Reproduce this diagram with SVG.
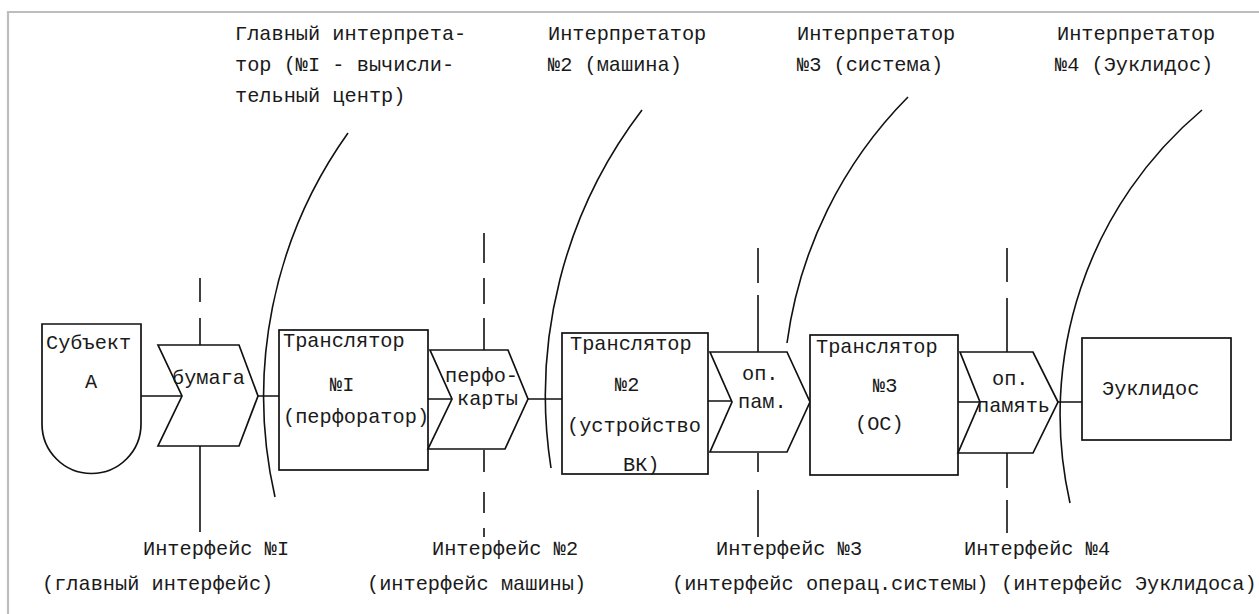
<svg xmlns="http://www.w3.org/2000/svg" width="1259" height="614" viewBox="0 0 1259 614">
<style>
.t{font-family:"Liberation Mono","DejaVu Sans Mono",monospace;font-size:20.3px;fill:#1a1a1a}
.n{fill:#fff;stroke:#111;stroke-width:1.7}
.c{fill:none;stroke:#111;stroke-width:1.6}
.arc{fill:none;stroke:#111;stroke-width:1.6}
.d{fill:none;stroke:#111;stroke-width:1.6}
</style>
<rect x="0" y="0" width="1259" height="614" fill="#fff"/>
<path d="M8,614 V12 H1259" fill="none" stroke="#bdbdbd" stroke-width="2.2"/>

<g id="labels-top">
<text class="t" x="235" y="40">Главный интерпрета-</text>
<text class="t" x="235" y="71">тор (№I - вычисли-</text>
<text class="t" x="235" y="102">тельный центр)</text>
<text class="t" x="548" y="40">Интерпретатор</text>
<text class="t" x="548" y="71">№2 (машина)</text>
<text class="t" x="797" y="40">Интерпретатор</text>
<text class="t" x="797" y="71">№3 (система)</text>
<text class="t" x="1057" y="40">Интерпретатор</text>
<text class="t" x="1055" y="71">№4 (Эуклидос)</text>
</g>

<g id="interpreters">
<path class="arc" d="M348,133 A453,453 0 0 0 275,497"/>
<path class="arc" d="M642,110 A470,470 0 0 0 551,468"/>
<path class="arc" d="M908,97 A430,430 0 0 0 787,343"/>
<path class="arc" d="M1202,110 A398,398 0 0 0 1070,503"/>
</g>

<g id="interfaces">
<path class="d" d="M200,278V302 M200,318V345 M200,446V532"/>
<path class="d" d="M484,233V263 M484,278V304 M484,318V350 M484,450V472 M484,492V513 M484,528V537"/>
<path class="d" d="M758,248V283 M758,295V352 M758,453V472 M758,490V537"/>
<path class="d" d="M1007,248V282 M1007,298V352 M1007,453V488 M1007,500V533"/>
</g>

<g id="connectors">
<path class="c" d="M141,396H182 M258,396H279 M428,399H452 M528,399H562 M708,401H732 M958,402H980 M1058,402H1082"/>
</g>

<g id="subject">
<path class="n" d="M42,324H141V424A49.5,49.5 0 0 1 42,424Z"/>
<text class="t" x="46" y="349">Субъект</text>
<text class="t" x="85" y="388">А</text>
</g>

<g id="paper">
<path class="n" d="M158,345H239L258,396L239,446H158L182,396Z"/>
<text class="t" x="172" y="384">бумага</text>
</g>

<g id="translator1">
<rect class="n" x="279" y="330" width="149" height="140"/>
<text class="t" x="283" y="347">Транслятор</text>
<text class="t" x="330" y="391">№I</text>
<text class="t" x="283" y="423">(перфоратор)</text>
</g>

<g id="punchcards">
<path class="n" d="M430,350H508L528,399L505,449H428L452,399Z"/>
<text class="t" x="445" y="382">перфо-</text>
<text class="t" x="457" y="405">карты</text>
</g>

<g id="translator2">
<rect class="n" x="562" y="333" width="146" height="141"/>
<text class="t" x="570" y="350">Транслятор</text>
<text class="t" x="615" y="391">№2</text>
<text class="t" x="567" y="432">(устройство</text>
<text class="t" x="623" y="471">ВК)</text>
</g>

<g id="opmem1">
<path class="n" d="M710,352H787L810,402L787,452H710L732,402Z"/>
<text class="t" x="742" y="380">оп.</text>
<text class="t" x="738" y="408">пам.</text>
</g>

<g id="translator3">
<rect class="n" x="810" y="335" width="148" height="140"/>
<text class="t" x="816" y="353">Транслятор</text>
<text class="t" x="873" y="392">№3</text>
<text class="t" x="855" y="430">(ОС)</text>
</g>

<g id="opmem2">
<path class="n" d="M960,352H1033L1058,402L1033,453H958L980,402Z"/>
<text class="t" x="992" y="385">оп.</text>
<text class="t" x="977" y="412">память</text>
</g>

<g id="euclidos">
<rect class="n" x="1082" y="338" width="149" height="102"/>
<text class="t" x="1102" y="395">Эуклидос</text>
</g>

<g id="labels-bottom">
<text class="t" x="143" y="555">Интерфейс №I</text>
<text class="t" x="42" y="590">(главный интерфейс)</text>
<text class="t" x="432" y="555">Интерфейс №2</text>
<text class="t" x="367" y="590">(интерфейс машины)</text>
<text class="t" x="716" y="555">Интерфейс №3</text>
<text class="t" x="672" y="590">(интерфейс операц.системы)</text>
<text class="t" x="964" y="555">Интерфейс №4</text>
<text class="t" x="1001" y="590">(интерфейс Эуклидоса)</text>
</g>
</svg>
